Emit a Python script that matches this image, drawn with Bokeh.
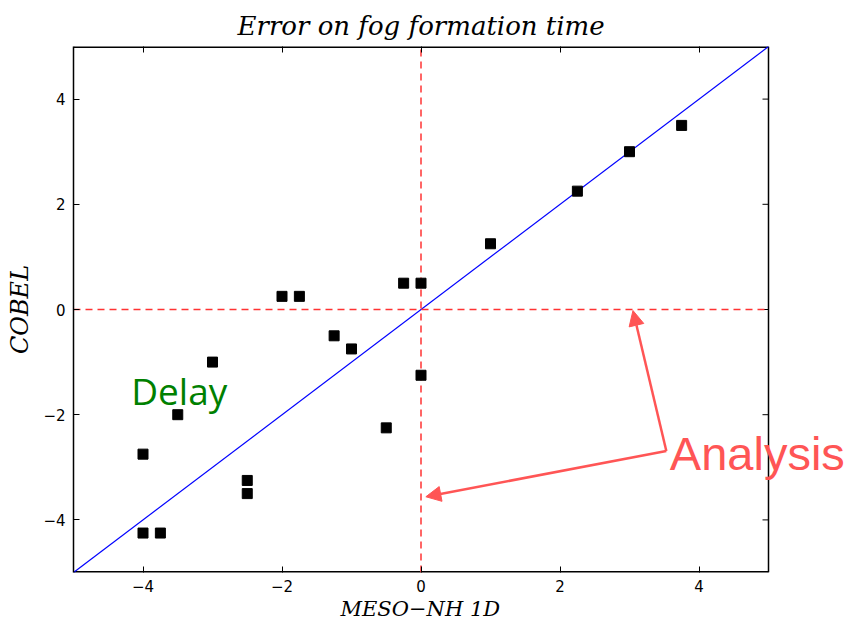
import math
from bokeh.plotting import figure
from bokeh.models import Label, Arrow, NormalHead, LinearAxis, Range1d, FixedTicker, ColumnDataSource, Title
from bokeh.embed import file_html
from bokeh.resources import INLINE

# data
meso_nh = [-4.0, -4.0, -3.75, -3.5, -3.0, -2.5, -2.5, -2.0, -1.75, -1.25, -1.0, -0.5, -0.25, 0.0, 0.0, 1.0, 2.25, 3.0, 3.75]
cobel = [-2.75, -4.25, -4.25, -2.0, -1.0, -3.25, -3.5, 0.25, 0.25, -0.5, -0.75, -2.25, 0.5, 0.5, -1.25, 1.25, 2.25, 3.0, 3.5]
ticks = [-4, -2, 0, 2, 4]
axis_lo, axis_hi = -5, 5
title_text = "Error on fog formation time"
x_label = "MESO\u2212NH 1D"
y_label = "COBEL"

# the frame runs to the window edge so that the "Analysis" note can overhang the box
FRAME_LEFT = 73
PX_PER_UNIT = 69.5
x_end = axis_lo + (849 - FRAME_LEFT) / PX_PER_UNIT

p = figure(width=849, height=620, output_backend="svg", toolbar_location=None,
           x_range=Range1d(axis_lo, x_end), y_range=Range1d(axis_lo, axis_hi),
           min_border_left=FRAME_LEFT, min_border_right=0, min_border_top=46, min_border_bottom=0)
p.title.text = title_text
p.title.align = "left"
p.title.offset = 164
p.title.text_font = "DejaVu Serif"
p.title.text_font_style = "italic"
p.title.text_font_size = "26px"
p.title.text_color = "black"
p.title.standoff = 12
p.grid.visible = False
p.outline_line_color = None

def style_axis(ax):
    ax.ticker = FixedTicker(ticks=ticks)
    ax.major_tick_in = 6
    ax.major_tick_out = 0
    ax.minor_tick_in = 0
    ax.minor_tick_out = 0
    ax.axis_line_color = "black"
    ax.axis_line_width = 1.5
    ax.major_tick_line_color = "black"
    ax.major_label_text_font = "DejaVu Sans"
    ax.major_label_text_font_size = "15px"
    ax.major_label_text_color = "black"
    ax.major_label_standoff = 8

for ax in p.xaxis + p.yaxis:
    style_axis(ax)
p.xaxis.axis_line_color = None
p.xaxis.major_label_standoff = 7
p.yaxis.axis_label = y_label
p.yaxis.axis_label_text_font = "DejaVu Serif"
p.yaxis.axis_label_text_font_style = "italic"
p.yaxis.axis_label_text_color = "black"
p.yaxis.axis_label_standoff = 6
p.yaxis.axis_label_text_font_size = "24px"
p.yaxis.major_label_orientation = "horizontal"

top = LinearAxis()
style_axis(top)
top.axis_line_color = None
top.major_label_text_font_size = "1px"
top.major_label_text_alpha = 0
top.major_label_standoff = 0
p.add_layout(top, "above")

xt = Title(text=x_label, align="left", offset=267, text_font="DejaVu Serif", text_font_style="italic",
           text_font_size="21px", text_color="black", standoff=0)
p.add_layout(xt, "below")

# box edges (top/bottom are half clipped by the frame, hence the wider line)
p.segment(x0=[axis_lo, axis_lo], y0=[axis_lo, axis_hi], x1=[axis_hi, axis_hi], y1=[axis_lo, axis_hi],
          line_color="black", line_width=3)
p.segment(x0=[axis_hi], y0=[axis_lo], x1=[axis_hi], y1=[axis_hi], line_color="black", line_width=1.5)
p.ray(x=[axis_hi] * len(ticks), y=ticks, length=6, length_units="screen", angle=math.pi,
      line_color="black", line_width=1)

# reference lines
p.segment(x0=[axis_lo], y0=[axis_lo], x1=[axis_hi], y1=[axis_hi], line_color="#0000ff", line_width=1.2)
p.segment(x0=[axis_lo, 0], y0=[0, axis_lo], x1=[axis_hi, 0], y1=[0, axis_hi],
          line_color="#ff3333", line_width=1.5, line_dash="7 5")

src = ColumnDataSource(dict(x=meso_nh, y=cobel))
p.scatter("x", "y", source=src, marker="square", size=10, fill_color="black", line_color="black")

p.add_layout(Label(x=-4.17, y=-2.02, text="Delay", text_color="#008000", text_font="Open Sans",
                   text_font_size="37px"))

arrow_color = "#ff5555"
p.add_layout(Arrow(end=NormalHead(size=15, fill_color=arrow_color, line_color=arrow_color),
                   x_start=3.53, y_start=-2.69, x_end=3.05, y_end=-0.02,
                   line_color=arrow_color, line_width=2.5))
p.add_layout(Arrow(end=NormalHead(size=15, fill_color=arrow_color, line_color=arrow_color),
                   x_start=3.53, y_start=-2.69, x_end=0.07, y_end=-3.56,
                   line_color=arrow_color, line_width=2.5))
p.add_layout(Label(x=3.58, y=-3.24, text="Analysis", text_color=arrow_color, text_font="Liberation Sans",
                   text_font_size="47px"))

open("out.html", "w").write(file_html(p, INLINE))
